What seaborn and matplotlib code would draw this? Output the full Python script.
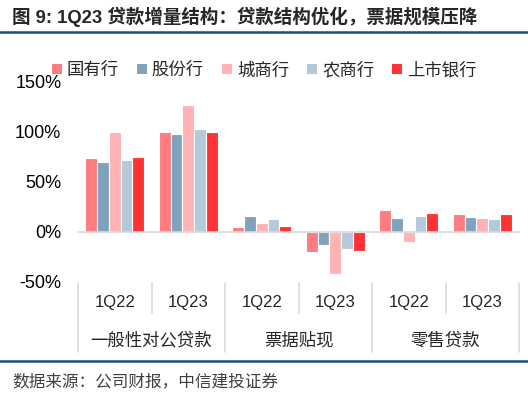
import pandas as pd
import matplotlib
matplotlib.use('Agg')
import matplotlib.pyplot as plt
import seaborn as sns
from matplotlib.lines import Line2D
from matplotlib.patches import Patch
from matplotlib.ticker import FuncFormatter
from matplotlib.transforms import blended_transform_factory

# data (loan increment share, %)
groups = ['一般性对公贷款', '票据贴现', '零售贷款']
periods = ['1Q22', '1Q23']
banks = ['国有行', '股份行', '城商行', '农商行', '上市银行']
guoyou = [74, 100, 5, -19.5, 22, 18.5]
gufen = [70, 98, 16.5, -13, 14.5, 15.5]
chengshang = [100.5, 127, 9, -42, -10, 14.5]
nongshang = [72, 103, 13, -17, 16, 13.5]
shangshi = [75, 100.5, 6.5, -19, 19.5, 18]
colors = ['#FF7C80', '#7FA3BE', '#FFB3B5', '#B4C9D9', '#FF3333']
yticks = [-50, 0, 50, 100, 150]

cats = [f'{g}\n{p}' for g in groups for p in periods]
series = dict(zip(banks, [guoyou, gufen, chengshang, nongshang, shangshi]))
rows = []
for bank, vals in series.items():
    for c, v in zip(cats, vals):
        rows.append({'cat': c, 'bank': bank, 'value': v})
df = pd.DataFrame(rows)

sns.set_style('white')
plt.rcParams['font.family'] = ['Liberation Sans', 'Noto Sans CJK SC', 'DejaVu Sans']

W, H = 528, 398
fig = plt.figure(figsize=(W / 100, H / 100), dpi=100)
ax = fig.add_axes([78 / W, (H - 282) / H, 441 / W, 200 / H])

sns.barplot(data=df, x='cat', y='value', hue='bank', order=cats, hue_order=banks,
            palette=colors, saturation=1, edgecolor='white', linewidth=0.8, width=0.8,
            legend=False, ax=ax)

ax.set_xlim(-0.5, len(cats) - 0.5)
ax.set_ylim(-50, 150)
ax.set_xlabel('')
ax.set_ylabel('')
for s in ['left', 'right', 'top']:
    ax.spines[s].set_visible(False)
ax.spines['bottom'].set_position(('data', 0))
ax.spines['bottom'].set_color('#D9D9D9')
ax.spines['bottom'].set_linewidth(1.2)
ax.set_xticks([i - 0.5 for i in range(len(cats) + 1)])
ax.tick_params(axis='x', direction='in', length=5, color='#D9D9D9', width=1.2,
               labelbottom=False)
ax.set_yticks(yticks)
ax.yaxis.set_major_formatter(FuncFormatter(lambda v, p: f'{int(v)}%'))
ax.tick_params(axis='y', length=0, pad=12, labelsize=13, labelcolor='black')

# two-level category axis below the plot
tr = blended_transform_factory(ax.transData, ax.transAxes)
for i, c in enumerate(cats):
    ax.text(i, -0.10, periods[i % 2], transform=tr, ha='center', va='center', fontsize=12)
for j, g in enumerate(groups):
    ax.text(2 * j + 0.5, -0.29, g, transform=tr, ha='center', va='center', fontsize=12.5)
for k in range(len(cats) + 1):
    bottom = -0.35 if k % 2 == 0 else -0.155
    ax.add_line(Line2D([k - 0.5, k - 0.5], [-0.005, bottom], transform=tr,
                       color='#D9D9D9', lw=1.2, clip_on=False))

# legend
handles = [Patch(facecolor=c, edgecolor='none') for c in colors]
fig.legend(handles, banks, loc='center left', bbox_to_anchor=(52 / W, 1 - 70 / H),
           ncol=5, frameon=False, fontsize=12.5, handlelength=0.55, handleheight=0.55,
           handletextpad=0.3, columnspacing=1.05, borderpad=0, borderaxespad=0)

# title, rules and source
fig.text(12 / W, 1 - 17 / H, '图 9: 1Q23 贷款增量结构：贷款结构优化，票据规模压降',
         fontsize=13.3, fontweight='bold', va='center', ha='left')
for yy in [32, 361]:
    fig.add_artist(Line2D([0, 1], [1 - yy / H, 1 - yy / H], transform=fig.transFigure,
                          color='#1B4F7A', lw=1.8))
fig.text(12 / W, 1 - 381 / H, '数据来源：公司财报，中信建投证券', fontsize=12,
         color='#404040', va='center', ha='left', style='italic')

fig.savefig('out.png', dpi=100)
